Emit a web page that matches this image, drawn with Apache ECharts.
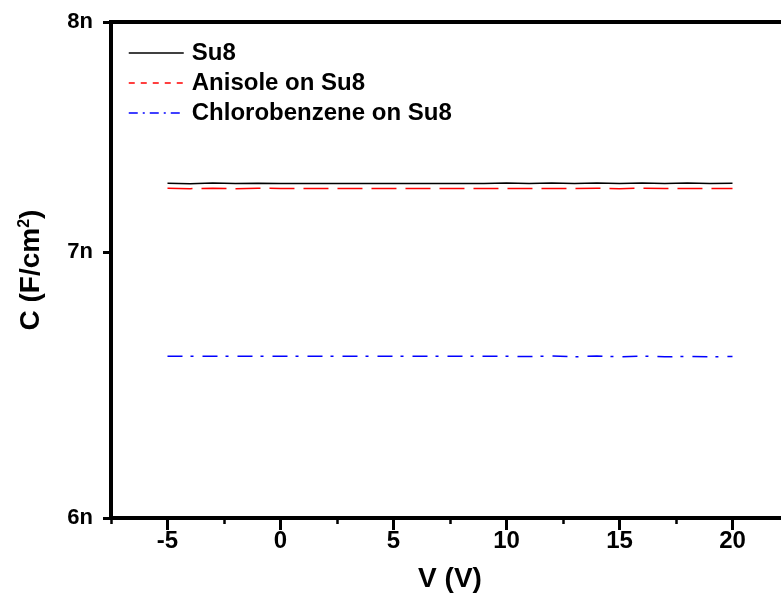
<!DOCTYPE html>
<html>
<head>
<meta charset="utf-8">
<script src="https://cdn.jsdelivr.net/npm/echarts@6/dist/echarts.min.js"></script>
<style>
html,body{margin:0;padding:0;background:#fff;}
#chart{width:781px;height:596px;}
</style>
</head>
<body>
<div id="chart"></div>
<script>
// Voltage (V)
const V = [-5,-4,-3,-2,-1,0,1,2,3,4,5,6,7,8,9,10,11,12,13,14,15,16,17,18,19,20];
// Capacitance in nF/cm^2
const su8 =      [7.286,7.284,7.287,7.285,7.286,7.285,7.285,7.285,7.285,7.285,7.285,7.285,7.285,7.285,7.285,7.287,7.285,7.287,7.285,7.287,7.285,7.287,7.285,7.287,7.285,7.286];
const anisole =  [7.265,7.263,7.265,7.263,7.265,7.264,7.264,7.264,7.264,7.264,7.264,7.264,7.264,7.264,7.264,7.264,7.264,7.264,7.264,7.265,7.263,7.265,7.264,7.264,7.264,7.264];
const chloro =   [6.590,6.590,6.590,6.590,6.590,6.590,6.590,6.590,6.590,6.590,6.590,6.590,6.590,6.590,6.590,6.590,6.589,6.591,6.588,6.591,6.588,6.591,6.588,6.590,6.588,6.589];
const names = ['Su8','Anisole on Su8','Chlorobenzene on Su8'];
const xTicks = [-5,0,5,10,15,20];
const yTicks = [6,7,8]; // nF/cm^2, log scale

const sans = '"Liberation Sans",Arial,sans-serif';
const lg = v => Math.log10(v);
const toData = arr => V.map((v,i)=>[v, lg(arr[i])]);

const chart = echarts.init(document.getElementById('chart'), null, {renderer:'canvas'});
chart.setOption({
  animation:false,
  backgroundColor:'#fff',
  grid:{left:111, top:22, width:678, height:496, show:true, borderColor:'#000', borderWidth:4,
        containLabel:false, outerBoundsMode:'none'},
  legend:{
    orient:'vertical', left:123, top:36, itemWidth:55, itemHeight:14, itemGap:6,
    textStyle:{fontFamily:sans, fontWeight:'bold', fontSize:24, color:'#000', padding:[0,0,0,3]},
    itemStyle:{opacity:0},
    data:[
      {name:names[0], itemStyle:{opacity:0}, lineStyle:{type:'solid', width:1.5, color:'#000'}},
      {name:names[1], itemStyle:{opacity:0}, lineStyle:{type:[6,6], width:1.5, color:'#ff0000'}},
      {name:names[2], itemStyle:{opacity:0}, lineStyle:{type:[9,5,2,5], width:1.5, color:'#0000ff'}}
    ]
  },
  xAxis:[
    {type:'value', min:-7.5, max:22.5, interval:2.5, position:'bottom',
     axisLine:{show:true, onZero:false, lineStyle:{color:'#000', width:4}},
     axisTick:{show:true, inside:false, length:6, lineStyle:{color:'#000', width:2.5}},
     axisLabel:{show:false}, splitLine:{show:false}},
    {type:'value', min:-7.5, max:22.5, position:'bottom',
     axisLine:{show:false, onZero:false},
     axisTick:{show:true, inside:false, length:12, customValues:xTicks, lineStyle:{color:'#000', width:3}},
     axisLabel:{show:true, customValues:xTicks, margin:11, fontFamily:sans, fontWeight:'bold', fontSize:24, color:'#000'},
     splitLine:{show:false},
     name:'V (V)', nameLocation:'middle', nameGap:47, nameMoveOverlap:false,
     nameTextStyle:{fontFamily:sans, fontWeight:'bold', fontSize:28, color:'#000'}}
  ],
  yAxis:[{
    type:'value', min:lg(6), max:lg(8),
    axisLine:{show:true, onZero:false, lineStyle:{color:'#000', width:4}},
    axisTick:{show:true, inside:false, length:8, customValues:yTicks.map(lg), lineStyle:{color:'#000', width:3}},
    axisLabel:{show:true, customValues:yTicks.map(lg), margin:18, fontFamily:sans, fontWeight:'bold', fontSize:22, color:'#000',
      formatter:v=>Math.round(Math.pow(10,v))+'n'},
    splitLine:{show:false},
    name:'C (F/cm{s|2})', nameLocation:'middle', nameGap:66, nameRotate:90, nameMoveOverlap:false,
    nameTextStyle:{fontFamily:sans, fontWeight:'bold', fontSize:28, color:'#000',
      rich:{s:{fontFamily:sans, fontWeight:'bold', fontSize:16, color:'#000', verticalAlign:'top'}}}
  }],
  series:[
    {name:names[0], type:'line', xAxisIndex:0, data:toData(su8), symbol:'none', lineStyle:{color:'#000', width:1.5, type:'solid'}, itemStyle:{color:'#000'}},
    {name:names[1], type:'line', xAxisIndex:0, data:toData(anisole), symbol:'none', lineStyle:{color:'#ff0000', width:1.5, type:[25,9]}, itemStyle:{color:'#ff0000'}},
    {name:names[2], type:'line', xAxisIndex:0, data:toData(chloro), symbol:'none', lineStyle:{color:'#0000ff', width:1.5, type:[15,8,3,9]}, itemStyle:{color:'#0000ff'}}
  ]
});
</script>
</body>
</html>
